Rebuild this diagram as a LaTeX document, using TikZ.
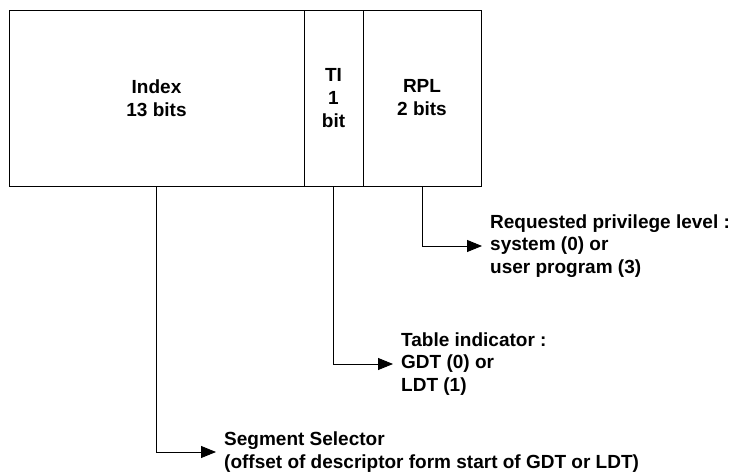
\documentclass[tikz,border=0pt]{standalone}
\usepackage{fontspec}
\setmainfont{Liberation Sans}
\usetikzlibrary{arrows.meta}
\begin{document}
\begin{tikzpicture}[x=1pt,y=1pt,
  field/.style={draw,line width=0.9pt,minimum height=176pt,inner sep=0pt,align=center,
    font=\fontsize{19}{23}\selectfont\bfseries},
  note/.style={anchor=west,inner xsep=8pt,inner ysep=0pt,align=left,
    font=\fontsize{19}{22.5}\selectfont\bfseries},
  arr/.style={line width=0.9pt,-{Triangle[length=15pt,width=12pt]}}]
\useasboundingbox (0,0) rectangle (733,474);
\node[field,minimum width=295pt] (idx) at (156.5,376) {Index\\13 bits};
\node[field,minimum width=59pt] (ti) at (333.5,376) {TI\\1\\bit};
\node[field,minimum width=118pt] (rpl) at (422,376) {RPL\\2 bits};
\node[note] (rpltext) at (482,228) {Requested privilege level :\\system (0) or\\user program (3)};
\node[note] (titext) at (393,110) {Table indicator :\\GDT (0) or\\LDT (1)};
\node[note] (segtext) at (216,22) {Segment Selector\\(offset of descriptor form start of GDT or LDT)};
\draw[arr] (rpl.south) |- (rpltext.west);
\draw[arr] (ti.south) |- (titext.west);
\draw[arr] (idx.south) |- (segtext.west);
\end{tikzpicture}
\end{document}
